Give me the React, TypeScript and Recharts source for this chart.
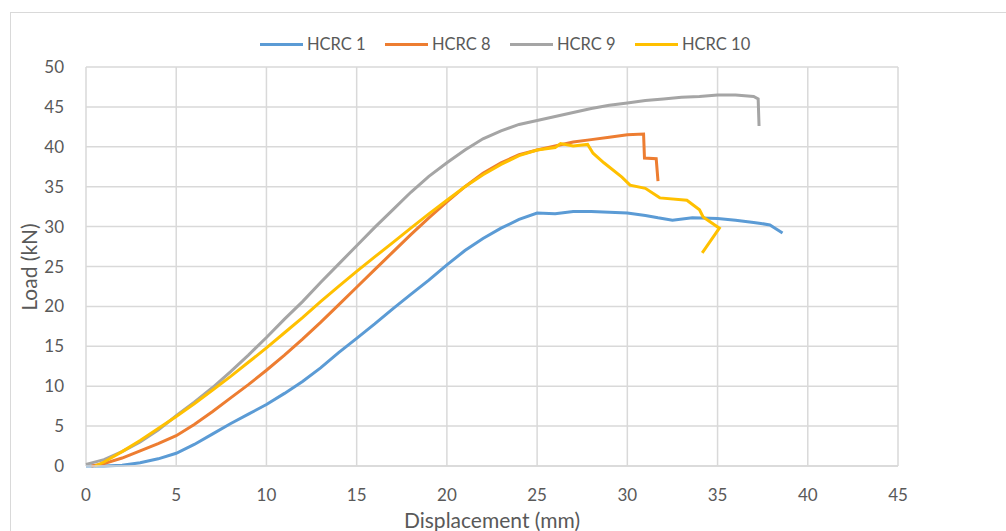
import { CartesianGrid, Line, LineChart, XAxis, YAxis } from 'recharts'

// HCRC 1
const hcrc1X = [0, 1, 2, 3, 4, 5, 6, 7, 8, 9, 10, 11, 12, 13, 14, 15, 16, 17, 18, 19, 20, 21, 22, 23, 24, 25, 26, 27, 28, 29, 30, 31, 31.7, 32.5, 33.6, 35, 36, 37, 37.4, 37.9, 38.6]
const hcrc1Y = [0, 0, 0.1, 0.4, 0.9, 1.6, 2.7, 4, 5.3, 6.5, 7.7, 9.1, 10.6, 12.3, 14.2, 16, 17.8, 19.7, 21.5, 23.3, 25.2, 27, 28.5, 29.8, 30.9, 31.7, 31.6, 31.9, 31.9, 31.8, 31.7, 31.4, 31.1, 30.8, 31.1, 31, 30.8, 30.5, 30.4, 30.2, 29.2]

// HCRC 8
const hcrc8X = [0.3, 1, 2, 3, 4, 5, 6, 7, 8, 9, 10, 11, 12, 13, 14, 15, 16, 17, 18, 19, 20, 21, 22, 23, 24, 25, 26, 27, 28, 29, 30, 30.9, 30.95, 31.6, 31.7]
const hcrc8Y = [0, 0.3, 1, 1.9, 2.8, 3.8, 5.2, 6.8, 8.5, 10.2, 12, 13.9, 15.9, 18, 20.2, 22.4, 24.6, 26.8, 29, 31.1, 33.1, 35, 36.7, 38, 39, 39.6, 40.1, 40.6, 40.9, 41.2, 41.5, 41.6, 38.6, 38.5, 35.7]

// HCRC 9
const hcrc9X = [0, 1, 2, 3, 4, 5, 6, 7, 8, 9, 10, 11, 12, 13, 14, 15, 16, 17, 18, 19, 20, 21, 22, 23, 24, 25, 26, 27, 28, 29, 30, 31, 32, 33, 34, 35, 36, 37, 37.25, 37.3]
const hcrc9Y = [0.2, 0.8, 1.8, 3, 4.5, 6.3, 8, 9.8, 11.8, 13.9, 16.1, 18.4, 20.6, 23, 25.3, 27.6, 29.9, 32.1, 34.3, 36.3, 38, 39.6, 41, 42, 42.8, 43.3, 43.8, 44.3, 44.8, 45.2, 45.5, 45.8, 46, 46.2, 46.3, 46.5, 46.5, 46.3, 46, 42.6]

// HCRC 10
const hcrc10X = [0.5, 1, 2, 3, 4, 5, 6, 7, 8, 9, 10, 11, 12, 13, 14, 15, 16, 17, 18, 19, 20, 21, 22, 23, 24, 25, 26, 26.3, 27, 27.8, 28.1, 28.7, 29.7, 30.15, 31, 31.8, 33.3, 34, 34.2, 35.1, 34.15]
const hcrc10Y = [0, 0.5, 1.8, 3.2, 4.7, 6.2, 7.8, 9.5, 11.2, 13, 14.8, 16.7, 18.6, 20.6, 22.5, 24.4, 26.2, 28, 29.8, 31.6, 33.3, 35, 36.5, 37.8, 38.9, 39.6, 39.9, 40.4, 40.1, 40.3, 39.2, 38, 36.2, 35.2, 34.8, 33.6, 33.3, 32.1, 31.2, 29.8, 26.7]

const xTicks = [0, 5, 10, 15, 20, 25, 30, 35, 40, 45]
const yTicks = [0, 5, 10, 15, 20, 25, 30, 35, 40, 45, 50]

const toPoints = (xs: number[], ys: number[]) => xs.map((x, i) => ({ x, y: ys[i] }))

const series = [
  { name: 'HCRC 1', color: '#5b9bd5', data: toPoints(hcrc1X, hcrc1Y) },
  { name: 'HCRC 8', color: '#ed7d31', data: toPoints(hcrc8X, hcrc8Y) },
  { name: 'HCRC 9', color: '#a5a5a5', data: toPoints(hcrc9X, hcrc9Y) },
  { name: 'HCRC 10', color: '#ffc000', data: toPoints(hcrc10X, hcrc10Y) },
]

const font = 'Lato, "Open Sans", sans-serif'
const textColor = '#595959'
const tickStyle = { fontSize: 17, fill: textColor, fontFamily: font }

export default function App() {
  return (
    <div style={{ position: 'absolute', left: 0, top: 0, width: 1006, height: 531, overflow: 'hidden', background: '#fff', fontFamily: font }}>
      <div style={{ position: 'absolute', left: 10, top: 12, width: 1100, height: 600, border: '1px solid #d9d9d9' }} />

      {series.map((s, i) => (
        <div
          key={s.name}
          style={{ position: 'absolute', left: 260 + i * 125, top: 33, height: 22, display: 'flex', alignItems: 'center', gap: 4 }}
        >
          <span style={{ display: 'inline-block', width: 43, height: 3, background: s.color }} />
          <span style={{ fontSize: 16.5, color: textColor }}>{s.name}</span>
        </div>
      ))}

      <div
        style={{ position: 'absolute', left: 28, top: 267, transform: 'translate(-50%, -50%) rotate(-90deg)', fontSize: 21, color: textColor, whiteSpace: 'nowrap' }}
      >
        Load (kN)
      </div>
      <div
        style={{ position: 'absolute', left: 492, top: 519, transform: 'translate(-50%, -50%)', fontSize: 21, color: textColor, whiteSpace: 'nowrap' }}
      >
        Displacement (mm)
      </div>

      <LineChart width={1006} height={531} margin={{ top: 67, right: 108, bottom: 35, left: 26 }}>
        <CartesianGrid stroke="#d9d9d9" strokeWidth={1.5} />
        <XAxis
          type="number"
          dataKey="x"
          domain={[0, 45]}
          ticks={xTicks}
          height={30}
          tick={tickStyle}
          tickLine={false}
          tickMargin={17}
          axisLine={{ stroke: '#d9d9d9', strokeWidth: 1.5 }}
        />
        <YAxis
          type="number"
          dataKey="y"
          domain={[0, 50]}
          ticks={yTicks}
          width={60}
          tick={tickStyle}
          tickLine={false}
          tickMargin={16}
          axisLine={false}
        />
        {series.map((s) => (
          <Line
            key={s.name}
            data={s.data}
            dataKey="y"
            name={s.name}
            type="linear"
            stroke={s.color}
            strokeWidth={3}
            dot={false}
            isAnimationActive={false}
          />
        ))}
      </LineChart>
    </div>
  )
}
